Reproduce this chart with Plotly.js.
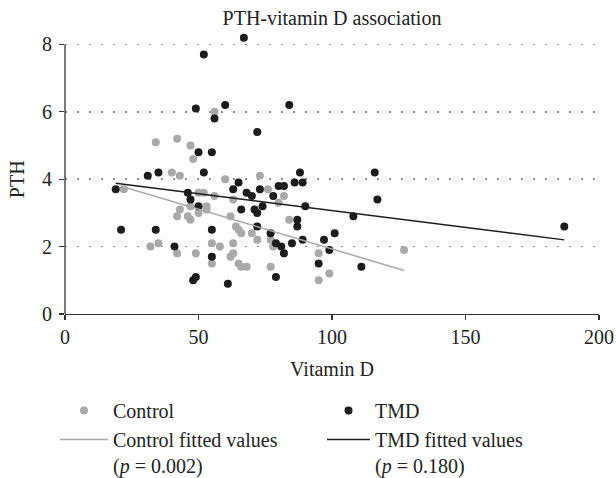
<!DOCTYPE html>
<html>
<head>
<meta charset="utf-8">
<script src="https://cdn.plot.ly/plotly-3.0.1.min.js"></script>
<style>html,body{margin:0;padding:0;background:#fff;}#chart{width:616px;height:478px;}</style>
</head>
<body>
<div id="chart"></div>
<script>
// Control group (gray)
var controlVitD = [22, 34, 42, 47, 48, 40, 43, 56, 60, 73, 43, 42, 46, 47, 47, 50, 52, 56, 50, 53, 53, 63, 62, 76, 82, 80, 84, 64, 65, 66, 70, 72, 77, 78, 32, 35, 42, 49, 55, 58, 63, 55, 62, 63, 65, 66, 68, 77, 95, 95, 99, 127];
var controlPTH  = [3.7, 5.1, 5.2, 5.0, 4.6, 4.2, 4.1, 6.0, 4.0, 4.1, 3.1, 2.9, 2.9, 2.8, 3.2, 3.6, 3.6, 3.5, 3.0, 3.2, 3.1, 3.4, 2.9, 3.7, 3.5, 3.3, 2.8, 2.6, 2.5, 2.4, 2.4, 2.2, 2.2, 2.0, 2.0, 2.1, 1.8, 1.8, 2.1, 2.0, 2.1, 1.5, 1.7, 1.8, 1.5, 1.4, 1.4, 1.4, 1.8, 1.0, 1.2, 1.9];

// TMD group (black)
var tmdVitD = [19, 21, 34, 31, 35, 41, 48, 49, 49, 52, 67, 56, 60, 84, 72, 50, 55, 52, 65, 63, 68, 70, 73, 78, 46, 47, 50, 66, 71, 72, 74, 72, 77, 55, 55, 61, 79, 79, 81, 82, 85, 89, 97, 101, 99, 95, 111, 88, 80, 82, 86, 89, 90, 87, 87, 108, 116, 117, 187];
var tmdPTH  = [3.7, 2.5, 2.5, 4.1, 4.2, 2.0, 1.0, 1.1, 6.1, 7.7, 8.2, 5.8, 6.2, 6.2, 5.4, 4.8, 4.8, 4.2, 3.9, 3.7, 3.6, 3.5, 3.7, 3.5, 3.6, 3.4, 3.2, 3.1, 3.1, 3.0, 3.2, 2.6, 2.4, 2.5, 1.7, 0.9, 1.1, 2.1, 2.0, 1.8, 2.1, 2.2, 2.2, 2.4, 1.9, 1.5, 1.4, 4.2, 3.8, 3.8, 3.9, 3.9, 3.2, 2.8, 2.6, 2.9, 4.2, 3.4, 2.6];

// Fitted lines (intercept, slope)
var controlFit = {intercept: 4.29, slope: -0.0236};
var tmdFit = {intercept: 4.07, slope: -0.0100};

var seriesNames = ['Control', 'TMD', 'Control fitted values<br>(<i>p</i> = 0.002)', 'TMD fitted values<br>(<i>p</i> = 0.180)'];
var xTicks = [0, 50, 100, 150, 200];
var yTicks = [0, 2, 4, 6, 8];
var xTitle = 'Vitamin D';
var yTitle = 'PTH';

function fitLine(xs, fit) {
  var lo = Math.min.apply(null, xs), hi = Math.max.apply(null, xs);
  return {x: [lo, hi], y: [fit.intercept + fit.slope * lo, fit.intercept + fit.slope * hi]};
}
var cf = fitLine(controlVitD, controlFit);
var tf = fitLine(tmdVitD, tmdFit);

var FONT = '"Liberation Serif", "Times New Roman", serif';
var GRAY = '#a9a9a9', BLACK = '#1c1c1c', AXIS = '#333';

var traces = [
  {x: controlVitD, y: controlPTH, mode: 'markers', type: 'scatter', name: seriesNames[0],
   marker: {color: GRAY, size: 8}, cliponaxis: false, legend: 'legend'},
  {x: tmdVitD, y: tmdPTH, mode: 'markers', type: 'scatter', name: seriesNames[1],
   marker: {color: BLACK, size: 8}, cliponaxis: false, legend: 'legend2'},
  {x: cf.x, y: cf.y, mode: 'lines', type: 'scatter', name: seriesNames[2],
   line: {color: GRAY, width: 1.5}, legend: 'legend'},
  {x: tf.x, y: tf.y, mode: 'lines', type: 'scatter', name: seriesNames[3],
   line: {color: BLACK, width: 1.5}, legend: 'legend2'}
];

var legendCommon = {
  orientation: 'v', bgcolor: 'rgba(0,0,0,0)', borderwidth: 0,
  font: {family: FONT, size: 20, color: '#222'},
  valign: 'top', traceorder: 'normal',
  xref: 'container', yref: 'container', xanchor: 'left', yanchor: 'top'
};

var layout = {
  width: 616, height: 478,
  margin: {l: 65, r: 17, t: 35.5, b: 164, pad: 0, autoexpand: false},
  paper_bgcolor: '#fff', plot_bgcolor: '#fff',
  font: {family: FONT, size: 20, color: '#222'},
  title: {text: 'PTH-vitamin D association', font: {family: FONT, size: 20, color: '#222'},
          xref: 'paper', x: 0.5, xanchor: 'center', yref: 'container', y: 1 - 18/478, yanchor: 'middle'},
  xaxis: {
    range: [0, 200], tickvals: xTicks, ticktext: xTicks.map(String),
    showline: true, linecolor: AXIS, linewidth: 1.3,
    ticks: 'outside', ticklen: 5, tickcolor: AXIS, tickwidth: 1.3,
    showgrid: false, zeroline: false,
    tickfont: {family: FONT, size: 20, color: '#222'},
    title: {text: xTitle, font: {family: FONT, size: 20, color: '#222'}, standoff: 14}
  },
  yaxis: {
    range: [0, 8.25], tickvals: yTicks, ticktext: yTicks.map(String),
    showline: false,
    ticks: 'outside', ticklen: 5, tickcolor: AXIS, tickwidth: 1.3, ticklabelstandoff: 3,
    showgrid: true, gridcolor: '#8c8c8c', gridwidth: 1.5, griddash: '1.5px,10.5px',
    zeroline: false,
    tickfont: {family: FONT, size: 20, color: '#222'}
  },
  shapes: [{
    type: 'line', xref: 'paper', x0: 0, x1: 0, yref: 'y', y0: yTicks[0], y1: yTicks[yTicks.length - 1],
    line: {color: AXIS, width: 1.3}, layer: 'above'
  }],
  annotations: [{
    text: yTitle, textangle: -90, showarrow: false,
    xref: 'paper', x: (17 - 65) / 534, xanchor: 'center',
    yref: 'y', y: 4, yanchor: 'middle',
    font: {family: FONT, size: 20, color: '#222'}
  }],
  legend: Object.assign({}, legendCommon, {x: 55/616, y: 1 - 391/478, itemwidth: 48}),
  legend2: Object.assign({}, legendCommon, {x: 322/616, y: 1 - 391/478, itemwidth: 43}),
  showlegend: true
};

Plotly.newPlot('chart', traces, layout, {displayModeBar: false, staticPlot: true});
</script>
</body>
</html>
